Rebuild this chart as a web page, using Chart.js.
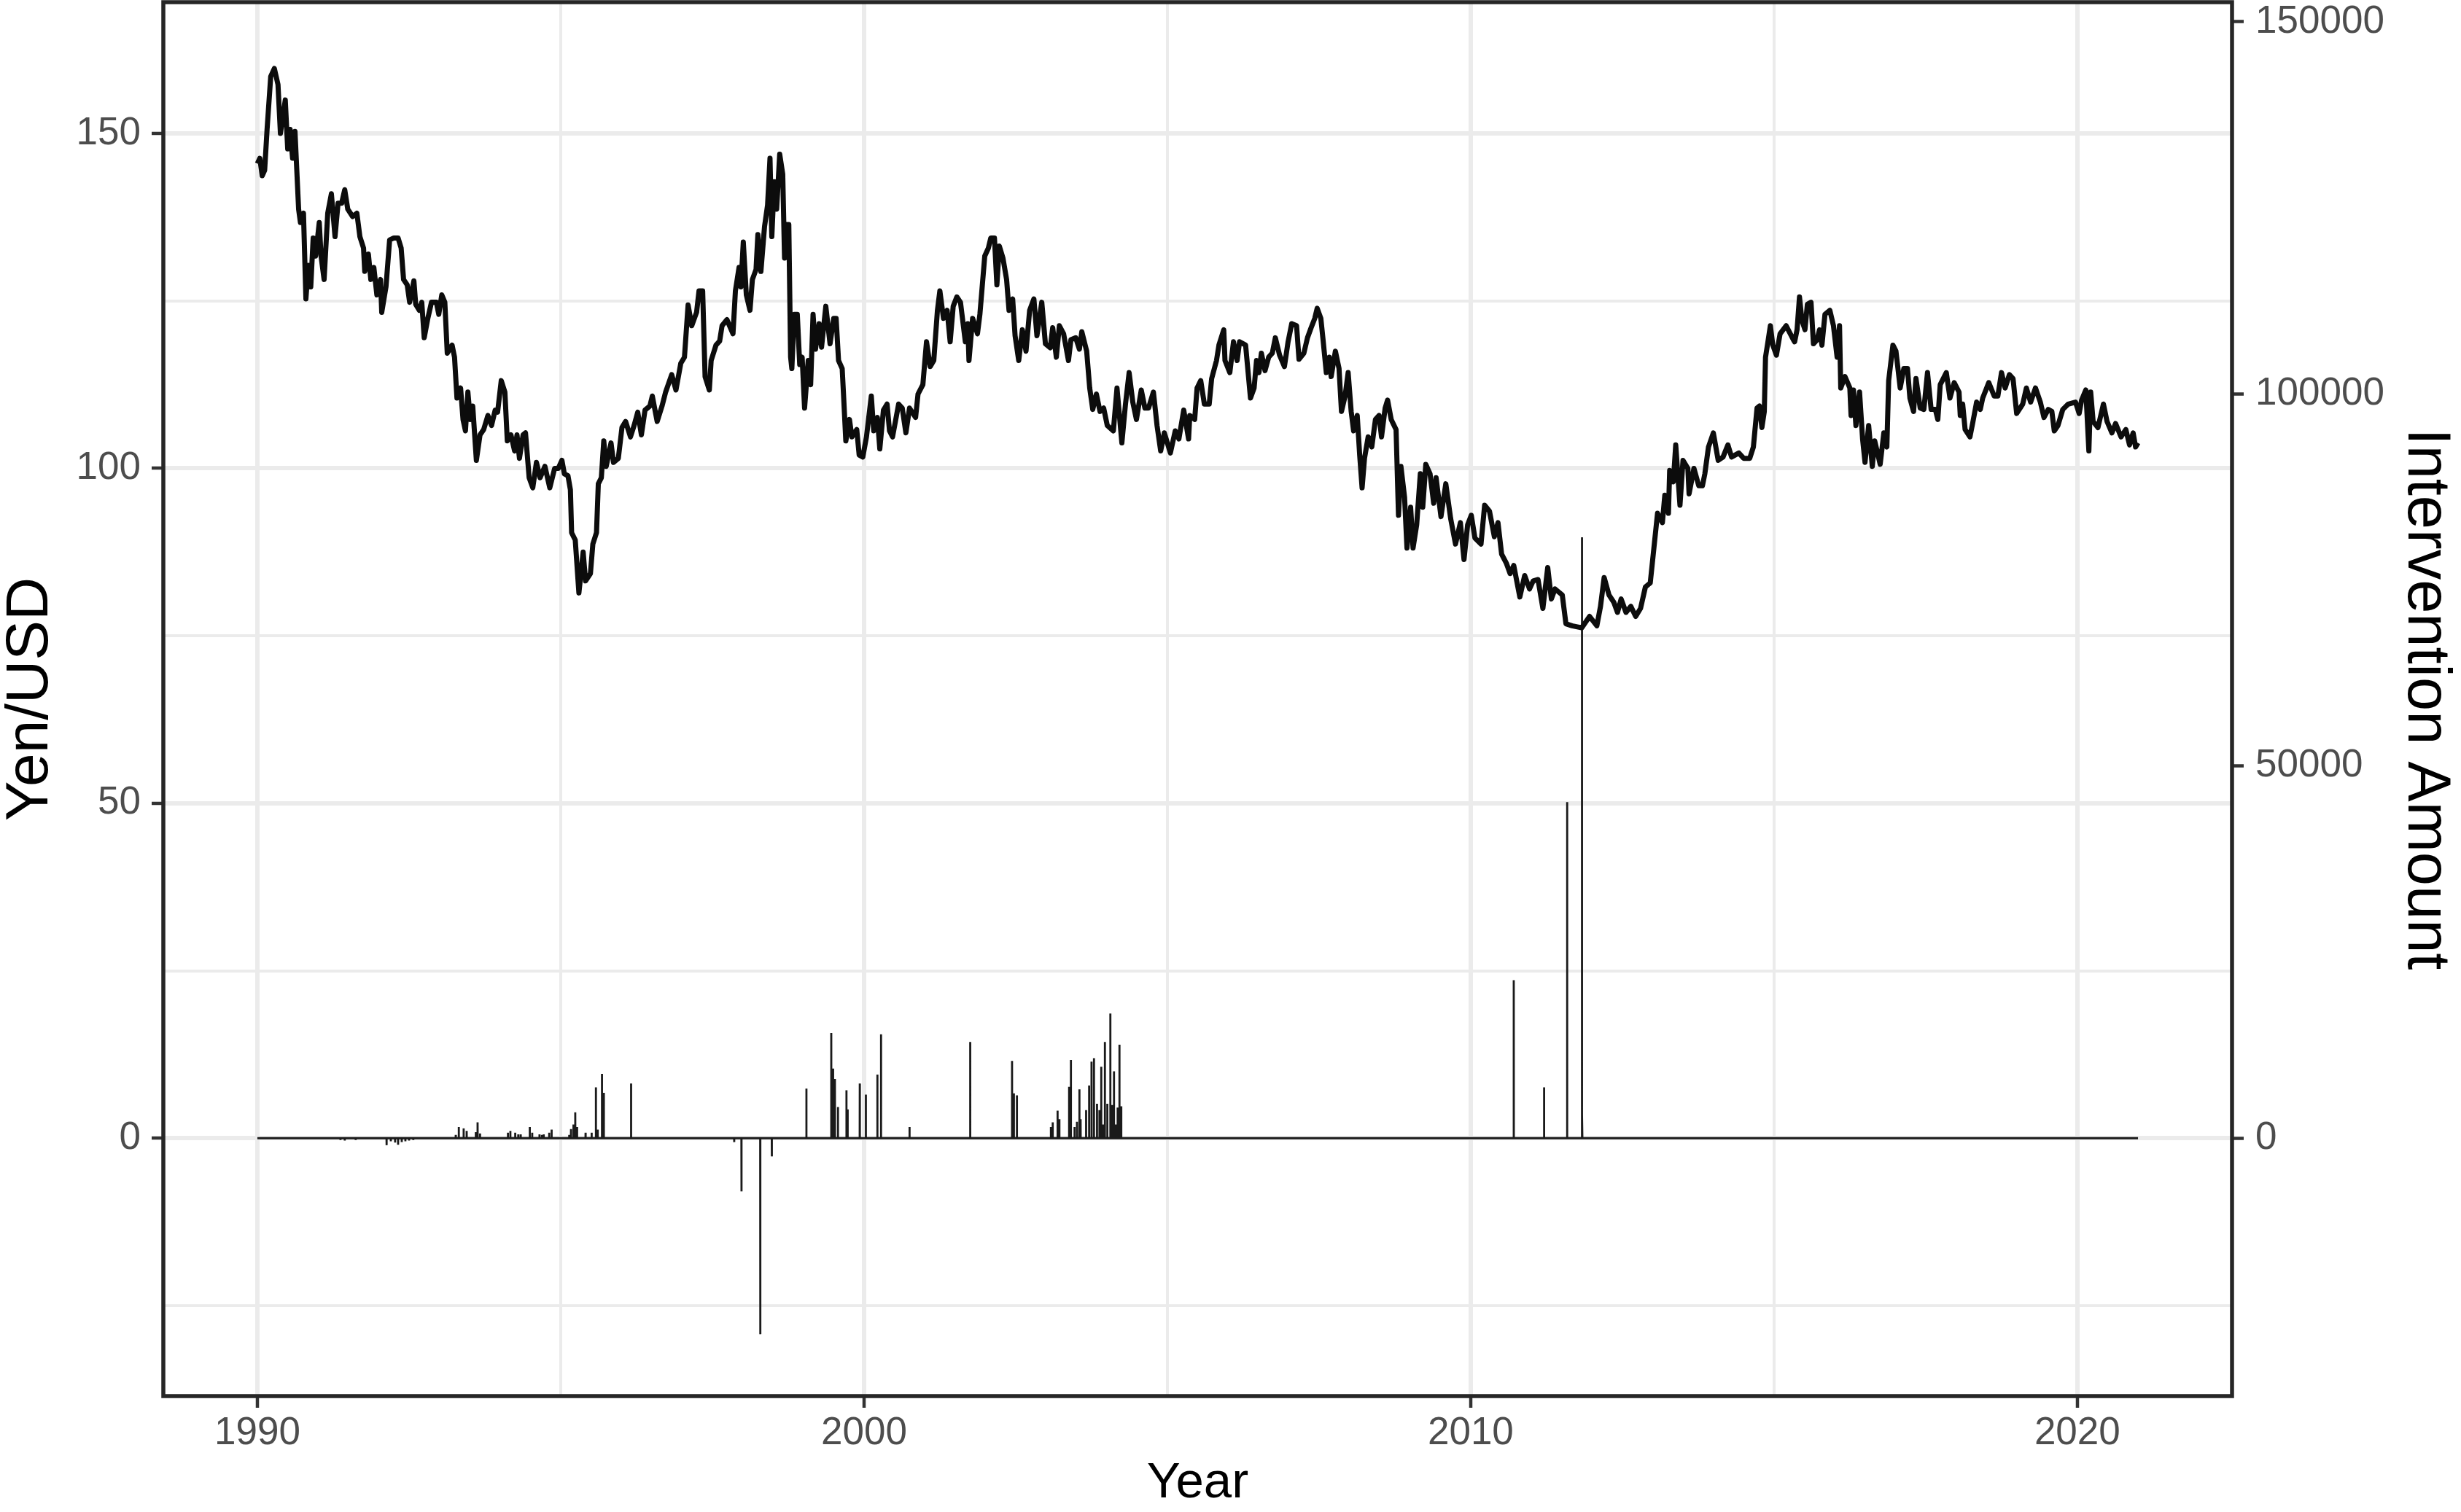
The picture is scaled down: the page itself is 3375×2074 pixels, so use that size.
<!DOCTYPE html>
<html>
<head>
<meta charset="utf-8">
<script src="https://cdn.jsdelivr.net/npm/chart.js@4.4.1/dist/chart.umd.min.js"></script>
<style>
  html, body { margin: 0; padding: 0; background: #fff; }
  canvas { display: block; }
</style>
</head>
<body>
<canvas id="fxChart" width="3375" height="2074"></canvas>
<script>
// Yen/USD exchange rate (decimal year, yen per dollar)
const rateYears = [
  1990.00, 1990.04, 1990.08, 1990.12, 1990.16, 1990.22, 1990.28, 1990.34, 1990.38, 1990.46,
  1990.50, 1990.54, 1990.58, 1990.62, 1990.68, 1990.71, 1990.76, 1990.80, 1990.84, 1990.88,
  1990.92, 1990.96, 1991.02, 1991.05, 1991.10, 1991.16, 1991.22, 1991.28, 1991.33, 1991.39,
  1991.44, 1991.49, 1991.57, 1991.64, 1991.69, 1991.75, 1991.77, 1991.83, 1991.87, 1991.92,
  1991.97, 1992.03, 1992.05, 1992.12, 1992.18, 1992.25, 1992.32, 1992.37, 1992.41, 1992.47,
  1992.51, 1992.58, 1992.61, 1992.67, 1992.71, 1992.75, 1992.81, 1992.87, 1992.95, 1992.99,
  1993.04, 1993.09, 1993.13, 1993.21, 1993.25, 1993.29, 1993.35, 1993.39, 1993.43, 1993.47,
  1993.51, 1993.55, 1993.61, 1993.67, 1993.73, 1993.80, 1993.86, 1993.92, 1993.96, 1994.02,
  1994.08, 1994.12, 1994.18, 1994.24, 1994.28, 1994.32, 1994.38, 1994.42, 1994.48, 1994.54,
  1994.60, 1994.66, 1994.74, 1994.82, 1994.90, 1994.96, 1995.02, 1995.06, 1995.12, 1995.16,
  1995.18, 1995.24, 1995.30,
  1995.37, 1995.41, 1995.49, 1995.53, 1995.59, 1995.62, 1995.67, 1995.71, 1995.75, 1995.83,
  1995.87, 1995.95, 1996.01, 1996.07, 1996.15, 1996.21, 1996.27, 1996.33, 1996.39, 1996.47,
  1996.51, 1996.59, 1996.67, 1996.73, 1996.83, 1996.90, 1996.98, 1997.04, 1997.10, 1997.16,
  1997.24, 1997.28, 1997.34, 1997.38, 1997.45, 1997.48, 1997.56, 1997.62, 1997.66, 1997.74,
  1997.84, 1997.88, 1997.94, 1997.97, 1998.01, 1998.06, 1998.12, 1998.16, 1998.22, 1998.25,
  1998.30, 1998.36, 1998.41, 1998.45, 1998.48, 1998.52, 1998.56, 1998.61, 1998.66, 1998.69,
  1998.72, 1998.76, 1998.79, 1998.81, 1998.85, 1998.90, 1998.94, 1998.98, 1999.02, 1999.08,
  1999.12, 1999.16, 1999.20, 1999.26, 1999.30, 1999.37, 1999.44, 1999.50, 1999.54, 1999.58,
  1999.64, 1999.66, 1999.70, 1999.76, 1999.80, 1999.88, 1999.92, 1999.98, 2000.04, 2000.12,
  2000.16, 2000.22, 2000.26, 2000.32, 2000.38, 2000.42,
  2000.47, 2000.57, 2000.63, 2000.69, 2000.75, 2000.85, 2000.89, 2000.97, 2001.03, 2001.09,
  2001.15, 2001.21, 2001.25, 2001.31, 2001.37, 2001.42, 2001.47, 2001.53, 2001.59, 2001.67,
  2001.71, 2001.73, 2001.79, 2001.87, 2001.91, 2001.99, 2002.05, 2002.09, 2002.15, 2002.19,
  2002.23, 2002.29, 2002.35, 2002.39, 2002.45, 2002.49, 2002.55, 2002.61, 2002.67, 2002.73,
  2002.80, 2002.85, 2002.93, 2002.99, 2003.07, 2003.11, 2003.17, 2003.22, 2003.29, 2003.37,
  2003.41, 2003.49, 2003.55, 2003.59, 2003.67, 2003.72, 2003.77, 2003.83, 2003.89, 2003.95,
  2004.01, 2004.11, 2004.17, 2004.25, 2004.31, 2004.37, 2004.43, 2004.49, 2004.57, 2004.63,
  2004.69, 2004.77, 2004.83, 2004.89, 2004.95, 2005.05, 2005.13, 2005.19, 2005.27, 2005.35,
  2005.37, 2005.45, 2005.49, 2005.55, 2005.61, 2005.69, 2005.73, 2005.81, 2005.85, 2005.93,
  2005.95, 2006.03, 2006.09, 2006.15, 2006.19, 2006.29, 2006.37, 2006.43, 2006.47, 2006.51,
  2006.55, 2006.61, 2006.67, 2006.73, 2006.78, 2006.85, 2006.93, 2006.99, 2007.05, 2007.13,
  2007.17, 2007.25, 2007.31, 2007.37, 2007.43, 2007.47, 2007.53, 2007.57, 2007.62, 2007.67,
  2007.70, 2007.77, 2007.83, 2007.87, 2007.93, 2007.98, 2008.03, 2008.07, 2008.13, 2008.17,
  2008.21, 2008.25, 2008.31, 2008.37, 2008.43, 2008.49, 2008.53, 2008.59, 2008.63, 2008.69,
  2008.77, 2008.81, 2008.85, 2008.91, 2008.95, 2009.01, 2009.05, 2009.11, 2009.17, 2009.21,
  2009.26, 2009.33, 2009.39, 2009.43, 2009.51, 2009.59, 2009.67, 2009.75, 2009.83, 2009.89,
  2009.95, 2010.01, 2010.07, 2010.17, 2010.23, 2010.31, 2010.39,
  2010.45, 2010.51, 2010.59, 2010.65, 2010.71, 2010.81, 2010.89, 2010.97, 2011.03, 2011.11,
  2011.19, 2011.27, 2011.33, 2011.39, 2011.51, 2011.57, 2011.67, 2011.83, 2011.96, 2012.08,
  2012.14, 2012.20, 2012.28, 2012.36, 2012.42, 2012.48, 2012.56, 2012.64, 2012.72, 2012.80,
  2012.88, 2012.96, 2013.02, 2013.08, 2013.16, 2013.20, 2013.26, 2013.28, 2013.34, 2013.38,
  2013.45, 2013.50, 2013.58, 2013.60, 2013.68, 2013.76, 2013.82, 2013.86, 2013.92, 2014.00,
  2014.08, 2014.16, 2014.24, 2014.30, 2014.42, 2014.50, 2014.60, 2014.66, 2014.72, 2014.76,
  2014.80, 2014.84, 2014.86, 2014.90, 2014.94, 2014.98, 2015.04, 2015.10, 2015.20, 2015.32,
  2015.34, 2015.38, 2015.42, 2015.46, 2015.51, 2015.55, 2015.61, 2015.65, 2015.71, 2015.75,
  2015.79, 2015.84, 2015.92, 2015.98, 2016.04, 2016.08, 2016.10, 2016.17, 2016.25, 2016.27,
  2016.31, 2016.35, 2016.41, 2016.46, 2016.50, 2016.56, 2016.62, 2016.66, 2016.75, 2016.81,
  2016.86, 2016.89, 2016.96, 2017.01, 2017.08, 2017.14, 2017.20, 2017.24, 2017.30, 2017.34,
  2017.41, 2017.47, 2017.53, 2017.59, 2017.66, 2017.70, 2017.74, 2017.84, 2017.90, 2017.97,
  2018.05, 2018.07, 2018.11, 2018.15, 2018.23, 2018.28, 2018.34, 2018.40, 2018.44, 2018.54,
  2018.63, 2018.69, 2018.75, 2018.81, 2018.88, 2018.94, 2019.00, 2019.10, 2019.16, 2019.23,
  2019.31, 2019.39, 2019.45, 2019.52, 2019.58, 2019.62, 2019.68, 2019.76, 2019.85, 2019.97,
  2020.03, 2020.07, 2020.14, 2020.19, 2020.22, 2020.26, 2020.34, 2020.43, 2020.49, 2020.57,
  2020.63, 2020.72, 2020.80, 2020.86, 2020.92, 2020.96, 2021.00
];
const rateValues = [
  145.5, 146.3, 143.7, 144.5, 150.6, 158.5, 159.7, 157.3, 150.0, 155.0,
  147.7, 150.6, 146.3, 150.3, 138.7, 136.7, 138.1, 125.3, 130.3, 127.1,
  134.4, 131.7, 136.7, 131.7, 128.2, 138.1, 141.0, 134.6, 139.6, 139.6,
  141.6, 138.7, 137.6, 138.1, 134.6, 132.9, 129.4, 132.0, 128.2, 130.0,
  125.9, 128.2, 123.3, 127.1, 134.1, 134.4, 134.4, 132.9, 128.2, 127.4,
  124.8, 128.0, 124.5, 123.6, 124.8, 119.5, 122.4, 124.8, 124.8, 123.0,
  125.9, 124.8, 117.2, 118.4, 116.6, 110.5, 112.0, 107.3, 105.6, 111.4,
  107.3, 109.3, 101.2, 105.0, 105.8, 107.9, 106.4, 108.7, 108.4, 113.1,
  111.4, 104.1, 105.0, 102.6, 105.0, 101.5, 105.0, 105.3, 98.6, 97.1,
  100.9, 98.6, 100.3, 97.1, 100.0, 100.0, 101.2, 99.2, 98.9, 96.8,
  90.4, 89.3, 81.4,
  87.5, 83.2, 84.3, 88.7, 90.4, 97.7, 98.6, 104.1, 100.3, 103.8,
  100.9, 101.5, 106.1, 107.0, 104.7, 106.4, 108.4, 105.0, 108.7, 109.3,
  110.8, 107.0, 109.3, 111.4, 114.0, 111.7, 115.7, 116.6, 124.4, 121.3,
  123.3, 126.5, 126.5, 113.7, 111.7, 116.1, 118.4, 119.0, 121.3, 122.2,
  120.1, 126.5, 130.0, 127.1, 133.8, 125.9, 123.6, 128.2, 129.7, 134.9,
  129.4, 136.1, 139.3, 146.3, 134.6, 142.8, 138.7, 146.9, 143.9, 131.4,
  136.4, 136.4, 116.6, 114.9, 123.0, 123.0, 115.5, 116.6, 109.0, 116.1,
  112.5, 123.0, 117.8, 121.6, 118.1, 124.2, 118.6, 122.4, 122.4, 116.1,
  114.9, 111.4, 104.1, 107.3, 104.7, 105.8, 102.0, 101.7, 104.7, 110.8,
  105.6, 107.6, 102.9, 108.7, 109.6, 105.6,
  104.7, 109.6, 109.0, 105.3, 109.0, 107.6, 111.1, 112.5, 118.9, 115.2,
  116.1, 123.6, 126.5, 122.4, 123.6, 118.9, 124.2, 125.6, 124.8, 118.9,
  121.6, 116.1, 122.4, 120.1, 123.0, 131.7, 132.9, 134.4, 134.4, 127.4,
  133.2, 131.4, 128.2, 123.6, 125.3, 119.8, 116.1, 120.7, 117.5, 123.6,
  125.3, 119.8, 124.8, 118.6, 118.0, 121.0, 116.6, 121.3, 120.1, 116.1,
  119.2, 119.5, 117.8, 120.4, 117.5, 112.0, 108.8, 111.1, 108.5, 109.0,
  106.4, 105.6, 112.0, 103.8, 109.6, 114.3, 109.9, 107.3, 111.7, 109.0,
  109.0, 111.4, 106.4, 102.6, 105.3, 102.3, 105.6, 104.4, 108.7, 104.4,
  107.9, 107.3, 112.0, 113.1, 109.6, 109.6, 113.4, 116.1, 118.4, 120.7,
  116.1, 114.3, 118.9, 116.1, 118.9, 118.4, 110.5, 112.0, 116.1, 114.3,
  117.2, 114.6, 116.6, 117.2, 119.5, 116.9, 115.2, 118.9, 121.6, 121.3,
  116.3, 117.2, 119.5, 121.0, 122.4, 123.9, 122.4, 118.9, 114.3, 116.6,
  113.7, 117.5, 114.9, 108.5, 110.8, 114.3, 108.5, 105.6, 107.9, 102.0,
  97.1, 101.5, 104.7, 103.2, 107.3, 107.9, 104.7, 109.0, 110.2, 107.3,
  105.8, 93.0, 100.3, 95.7, 88.1, 94.2, 88.1, 91.6, 99.2, 94.2,
  100.6, 99.2, 94.8, 98.6, 92.8, 97.7, 92.5, 88.7, 91.9, 86.4,
  91.6, 93.0, 89.6, 88.7, 94.5, 93.6, 89.8,
  91.9, 87.2, 85.8, 84.3, 85.5, 80.8, 84.0, 82.0, 83.2, 83.4,
  79.1, 85.2, 80.5, 82.0, 81.1, 76.8, 76.5, 76.2, 77.9, 76.5,
  79.4, 83.7, 81.1, 80.0, 78.5, 80.5, 78.5, 79.4, 77.9, 79.1,
  82.3, 82.9, 88.1, 93.3, 91.9, 96.0, 93.3, 99.7, 98.0, 103.5,
  94.5, 101.2, 100.0, 96.2, 100.0, 97.4, 97.4, 99.2, 103.2, 105.3,
  101.2, 101.7, 103.5, 101.7, 102.3, 101.5, 101.5, 103.2, 109.0, 109.3,
  106.1, 108.5, 116.6, 118.9, 121.3, 118.4, 116.9, 120.1, 121.3, 119.2,
  118.9, 120.7, 125.6, 122.1, 120.7, 124.5, 124.8, 118.6, 119.2, 120.7,
  118.4, 123.0, 123.6, 121.3, 116.6, 121.3, 112.0, 113.7, 112.0, 107.9,
  111.7, 106.4, 111.4, 104.4, 100.9, 106.4, 100.3, 104.1, 100.6, 105.3,
  103.2, 113.1, 118.4, 117.5, 112.0, 114.9, 114.9, 110.5, 108.5, 113.4,
  109.0, 108.8, 114.3, 108.8, 108.8, 107.3, 112.5, 114.3, 110.5, 112.8,
  111.4, 107.9, 109.6, 105.8, 104.7, 107.0, 109.9, 108.8, 110.5, 112.8,
  110.8, 110.8, 114.3, 112.0, 114.0, 113.4, 108.2, 109.6, 112.0, 109.9,
  112.0, 109.9, 107.6, 108.8, 108.5, 105.6, 106.4, 108.8, 109.6, 109.9,
  108.2, 110.2, 111.7, 102.6, 111.4, 107.0, 106.1, 109.6, 107.0, 105.3,
  106.7, 104.7, 105.8, 103.5, 105.3, 103.2, 103.8
];

// Intervention days (decimal year) and amounts
const interventionYears = [
  1991.37, 1991.44, 1991.62, 1992.13, 1992.20, 1992.27, 1992.32, 1992.38, 1992.44, 1992.50,
  1992.57, 1993.27, 1993.32, 1993.40, 1993.45, 1993.60, 1993.63, 1993.67, 1994.13, 1994.17,
  1994.25, 1994.30, 1994.34, 1994.49, 1994.53, 1994.65, 1994.69, 1994.72, 1994.81, 1994.85,
  1995.14, 1995.17, 1995.21, 1995.24, 1995.27, 1995.41, 1995.51, 1995.58, 1995.61, 1995.68,
  1995.71, 1996.16, 1997.86, 1997.98, 1998.29, 1998.48, 1999.05, 1999.46, 1999.49, 1999.52,
  1999.57, 1999.71, 1999.73, 1999.93, 2000.03, 2000.22, 2000.28, 2000.75, 2001.75, 2002.44,
  2002.47, 2002.52, 2003.08, 2003.11, 2003.19, 2003.22, 2003.38, 2003.41, 2003.47, 2003.51,
  2003.55, 2003.57, 2003.66, 2003.71, 2003.75, 2003.79, 2003.84, 2003.88, 2003.91, 2003.94,
  2003.97, 2004.01, 2004.06, 2004.09, 2004.12, 2004.15, 2004.18, 2004.21, 2004.24,
  2010.71, 2011.21, 2011.59, 2011.83, 2011.84
];
const interventionAmounts = [
  -244, -314, -244, -942, -419, -593, -872, -523, -419, -314,
  -244, 450, 1500, 1326, 977, 802, 2128, 628, 733, 977,
  733, 523, 523, 1500, 733, 523, 453, 523, 733, 1151,
  453, 1221, 1849, 3488, 1500, 733, 733, 6837, 1151, 8651,
  6105, 7360, -523, -7151, -26337, -2442, 6663, 14128, 9349, 7953,
  4186, 6453, 3872, 7360, 5860, 8547, 13953, 1500, 12941, 10395,
  6035, 5756, 1500, 2128, 3698, 2547, 6907, 10500, 1500, 2198,
  6558, 2547, 3767, 7081, 10291, 10744, 4640, 3767, 9593, 1849,
  12941, 4640, 16744, 4465, 9000, 1849, 4116, 12558, 4291,
  21240, 6822, 45150, 80750, 3150
];

// Axis breaks
const yearTicks = [1990, 1995, 2000, 2005, 2010, 2015, 2020];
const yenTicks = [-25, 0, 25, 50, 75, 100, 125, 150];
const amountTicks = [0, 50000, 100000, 150000];

// secondary axis: amount = yen * 900
const amountScale = 900;
const yenMin = -38.5, yenMax = 169.6;

const FONT = '"Liberation Sans", Arial, Helvetica, sans-serif';
const GRID = '#EBEBEB';
const INK = '#333333';

// rate line points
const ratePoints = rateYears.map((x, i) => ({ x: x, y: rateValues[i] }));

// intervention series: zero everywhere except on intervention days
const halfDay = 0.5 / 365;
const interventionPoints = [{ x: rateYears[0], y: 0 }];
interventionYears.forEach((d, i) => {
  interventionPoints.push({ x: d - halfDay, y: 0 });
  interventionPoints.push({ x: d, y: interventionAmounts[i] });
  interventionPoints.push({ x: d + halfDay, y: 0 });
});
interventionPoints.push({ x: rateYears[rateYears.length - 1], y: 0 });

const isMajorYear = v => v % 10 === 0;
const isMajorYen = v => v % 50 === 0;

// box around the panel, like theme_bw
const panelBorder = {
  id: 'panelBorder',
  afterDatasetsDraw(chart) {
    const { ctx, chartArea: a } = chart;
    ctx.save();
    ctx.strokeStyle = '#262626';
    ctx.lineWidth = 5.5;
    ctx.strokeRect(a.left, a.top, a.right - a.left, a.bottom - a.top);
    ctx.restore();
  }
};

const noPadding = s => { s.paddingTop = 0; s.paddingBottom = 0; s.paddingLeft = 0; s.paddingRight = 0; };

const ctx = document.getElementById('fxChart').getContext('2d');
const fxChart = new Chart(ctx, {
  type: 'line',
  data: {
    datasets: [
      {
        label: 'Yen/USD',
        data: ratePoints,
        yAxisID: 'y',
        borderColor: '#0c0c0c',
        borderWidth: 7,
        borderJoinStyle: 'round',
        pointRadius: 0,
        tension: 0
      },
      {
        label: 'Intervention Amount',
        data: interventionPoints,
        yAxisID: 'y2',
        borderColor: '#1a1a1a',
        borderWidth: 2.8,
        pointRadius: 0,
        tension: 0
      }
    ]
  },
  options: {
    responsive: false,
    animation: false,
    devicePixelRatio: 1,
    layout: { padding: { top: 3, left: 0, right: 0, bottom: 0 } },
    plugins: { legend: { display: false }, tooltip: { enabled: false } },
    scales: {
      x: {
        type: 'linear',
        position: 'bottom',
        min: 1988.45,
        max: 2022.55,
        afterBuildTicks: s => { s.ticks = yearTicks.map(v => ({ value: v })); },
        afterFit: s => { s.height = 159; noPadding(s); },
        border: { display: false },
        grid: {
          color: GRID,
          lineWidth: c => isMajorYear(c.tick.value) ? 6 : 4,
          tickLength: 16,
          tickWidth: 4.5,
          tickColor: c => isMajorYear(c.tick.value) ? INK : 'rgba(0,0,0,0)'
        },
        ticks: {
          autoSkip: false,
          maxRotation: 0,
          padding: 9,
          color: '#4D4D4D',
          font: { family: FONT, size: 53, lineHeight: 1 },
          callback: v => isMajorYear(v) ? String(v) : ''
        },
        title: {
          display: true,
          text: 'Year',
          color: '#000',
          font: { family: FONT, size: 69, lineHeight: 1 },
          padding: { top: 0, bottom: 5 }
        }
      },
      y: {
        type: 'linear',
        position: 'left',
        min: yenMin,
        max: yenMax,
        afterBuildTicks: s => { s.ticks = yenTicks.map(v => ({ value: v })); },
        afterFit: s => { s.width = 224; noPadding(s); },
        border: { display: false },
        grid: {
          color: GRID,
          lineWidth: c => isMajorYen(c.tick.value) ? 6 : 4,
          tickLength: 16,
          tickWidth: 4.5,
          tickColor: c => isMajorYen(c.tick.value) ? INK : 'rgba(0,0,0,0)'
        },
        ticks: {
          autoSkip: false,
          padding: 15,
          color: '#4D4D4D',
          font: { family: FONT, size: 53, lineHeight: 1 },
          callback: v => isMajorYen(v) ? String(v) : ''
        },
        title: {
          display: true,
          text: 'Yen/USD',
          color: '#000',
          font: { family: FONT, size: 82, lineHeight: 1 },
          padding: { top: 1, bottom: 0 }
        }
      },
      y2: {
        type: 'linear',
        position: 'right',
        min: yenMin * amountScale,
        max: yenMax * amountScale,
        afterBuildTicks: s => { s.ticks = amountTicks.map(v => ({ value: v })); },
        afterFit: s => { s.width = 314; noPadding(s); },
        border: { display: false },
        grid: {
          drawOnChartArea: false,
          tickLength: 16,
          tickWidth: 4.5,
          tickColor: INK
        },
        ticks: {
          autoSkip: false,
          padding: 16,
          color: '#4D4D4D',
          font: { family: FONT, size: 53, lineHeight: 1 },
          callback: v => String(v)
        },
        title: {
          display: true,
          text: 'Intervention Amount',
          color: '#000',
          font: { family: FONT, size: 83, lineHeight: 1 },
          padding: { top: 8, bottom: 0 }
        }
      }
    }
  },
  plugins: [panelBorder]
});
</script>
</body>
</html>
